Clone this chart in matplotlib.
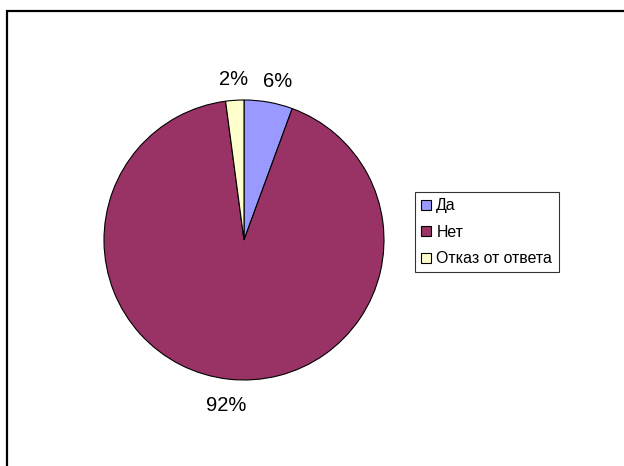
import matplotlib
matplotlib.use("Agg")
import matplotlib.pyplot as plt
from matplotlib.patches import Rectangle

plt.rcParams['font.family'] = ['Liberation Sans', 'DejaVu Sans']

# answers to the survey question
categories = ['Да', 'Нет', 'Отказ от ответа']
values = [5.6, 92.3, 2.1]
labels = ['6%', '92%', '2%']
colors = ['#9999FF', '#993366', '#FFFFCC']

W, H = 624, 466
fig = plt.figure(figsize=(W / 100, H / 100), dpi=100)

# outer chart frame (runs off the right and bottom edges)
fig.patches.append(Rectangle((7 / W, -0.05), 1.1, 1 - 10.5 / H + 0.05,
                             transform=fig.transFigure, fill=False,
                             edgecolor='black', linewidth=1.6))

cx, cy, r = 244, 240, 140
ax = fig.add_axes([(cx - r) / W, 1 - (cy + r) / H, 2 * r / W, 2 * r / H])
wedges, texts = ax.pie(values, labels=labels, colors=colors, startangle=90,
                       counterclock=False, radius=1, labeldistance=1.15,
                       wedgeprops=dict(edgecolor='black', linewidth=0.8),
                       textprops=dict(fontsize=14.5, color='black'))
for t in texts:
    t.set_ha('center')
    t.set_va('center')
# nudge labels like the original
x, y = texts[0].get_position()
texts[0].set_position((x + 0.04, y))
x, y = texts[1].get_position()
texts[1].set_position((x, y - 0.04))
ax.set_xlim(-1, 1)
ax.set_ylim(-1, 1)
ax.set_aspect('equal')
ax.axis('off')

leg = fig.legend(wedges, categories, loc='upper left',
                 bbox_to_anchor=(415 / W, 1 - 192 / H),
                 frameon=True, fancybox=False, fontsize=11.4,
                 handlelength=0.6, handleheight=0.6, handletextpad=0.35,
                 labelspacing=0.72, borderpad=0.4, borderaxespad=0)
leg.get_frame().set_edgecolor('black')
leg.get_frame().set_linewidth(0.8)

fig.savefig('out.png', dpi=100)
